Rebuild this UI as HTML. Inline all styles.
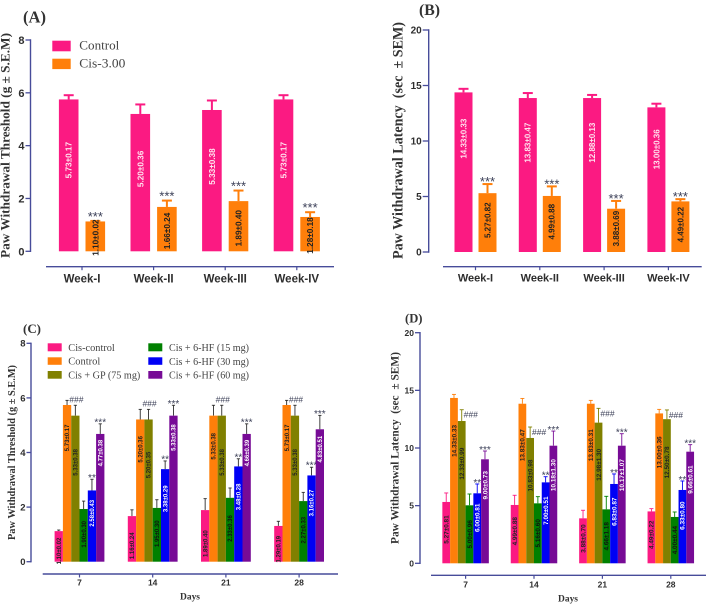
<!DOCTYPE html>
<html lang="en">
<head>
<meta charset="utf-8">
<title>Paw withdrawal threshold and latency charts</title>
<style>
html,body{margin:0;padding:0;background:#fff;width:708px;height:607px;overflow:hidden}
svg{display:block;position:absolute;left:0;top:0;filter:blur(0.3px)}
.serif{font-family:"Liberation Serif",serif}
.sans{font-family:"Liberation Sans",sans-serif}
</style>
</head>
<body>
<svg id="chart" xmlns="http://www.w3.org/2000/svg" width="708" height="607" viewBox="0 0 708 607">
  <rect x="0" y="0" width="708" height="607" fill="#fff"/>

  <text class="serif" x="23" y="22.5" font-size="16.5" font-weight="bold" fill="#333" textLength="23" lengthAdjust="spacingAndGlyphs">(A)</text>
  <text class="serif" x="419" y="15" font-size="15.7" font-weight="bold" fill="#333" textLength="21" lengthAdjust="spacingAndGlyphs">(B)</text>
  <text class="serif" x="23" y="333" font-size="13" font-weight="bold" fill="#333" textLength="18" lengthAdjust="spacingAndGlyphs">(C)</text>
  <text class="serif" x="405" y="322.5" font-size="13" font-weight="bold" fill="#333" textLength="17.5" lengthAdjust="spacingAndGlyphs">(D)</text>

  <text class="serif" transform="translate(9.5,145.5) rotate(-90)" text-anchor="middle" font-size="13" font-weight="bold" fill="#333" textLength="225" lengthAdjust="spacingAndGlyphs">Paw Withdrawal Threshold (g ± S.E.M)</text>
  <text class="serif" transform="translate(402.5,140.5) rotate(-90)" text-anchor="middle" font-size="14.5" font-weight="bold" fill="#333" textLength="237" lengthAdjust="spacingAndGlyphs">Paw Withdrawal Latency&#160; (sec&#160; ± SEM)</text>
  <text class="serif" transform="translate(15,452.5) rotate(-90)" text-anchor="middle" font-size="10.3" font-weight="bold" fill="#333" textLength="175" lengthAdjust="spacingAndGlyphs">Paw Withdrawal Threshold (g ± S.E.M)</text>
  <text class="serif" transform="translate(398.5,448) rotate(-90)" text-anchor="middle" font-size="11.8" font-weight="bold" fill="#333" textLength="192" lengthAdjust="spacingAndGlyphs">Paw Withdrawal Latency&#160; (sec&#160; ± SEM)</text>

  <text class="serif" x="180" y="599.5" font-size="9.5" font-weight="bold" fill="#333" textLength="20" lengthAdjust="spacingAndGlyphs">Days</text>
  <text class="serif" x="558" y="601.5" font-size="9.5" font-weight="bold" fill="#333" textLength="20" lengthAdjust="spacingAndGlyphs">Days</text>

  <g>
    <rect x="52.3" y="40.7" width="18.4" height="10.6" fill="#fb1a82"/>
    <text class="serif" x="79.3" y="49.5" font-size="13" fill="#444" textLength="40" lengthAdjust="spacingAndGlyphs">Control</text>
    <rect x="52.3" y="58.7" width="18.4" height="10.4" fill="#ff7f0a"/>
    <text class="serif" x="79.3" y="67.7" font-size="13" fill="#444" textLength="46" lengthAdjust="spacingAndGlyphs">Cis-3.00</text>
  </g>

  <g>
    <rect x="47.7" y="343.3" width="14" height="8" fill="#fb1a82"/>
    <text class="serif" x="68.3" y="351" font-size="11" fill="#444" textLength="46.5" lengthAdjust="spacingAndGlyphs">Cis-control</text>
    <rect x="47.7" y="357.3" width="14" height="7.5" fill="#ff7f0a"/>
    <text class="serif" x="68.3" y="364.5" font-size="11" fill="#444" textLength="32" lengthAdjust="spacingAndGlyphs">Control</text>
    <rect x="47.7" y="371" width="14" height="7.7" fill="#808000"/>
    <text class="serif" x="68.3" y="378.5" font-size="11" fill="#444" textLength="72" lengthAdjust="spacingAndGlyphs">Cis + GP (75 mg)</text>
    <rect x="148.3" y="343.3" width="14" height="8" fill="#008000"/>
    <text class="serif" x="169" y="351" font-size="11" fill="#444" textLength="80" lengthAdjust="spacingAndGlyphs">Cis + 6-HF (15 mg)</text>
    <rect x="148.3" y="357.3" width="14" height="7.5" fill="#0000f5"/>
    <text class="serif" x="169" y="364.8" font-size="11" fill="#444" textLength="80" lengthAdjust="spacingAndGlyphs">Cis + 6-HF (30 mg)</text>
    <rect x="148.3" y="371" width="14" height="7.7" fill="#770b96"/>
    <text class="serif" x="169" y="378.5" font-size="11" fill="#444" textLength="80" lengthAdjust="spacingAndGlyphs">Cis + 6-HF (60 mg)</text>
  </g>
</svg>

<script>
// ---- Panel A data ----
const aCategories = ['Week-I', 'Week-II', 'Week-III', 'Week-IV'];
const aYTicks = [0, 2, 4, 6, 8];
const aControlMeans = [5.75, 5.2, 5.35, 5.75];
const aControlErrors = [0.16, 0.36, 0.36, 0.16];
const aControlLabels = ['5.73±0.17', '5.20±0.36', '5.33±0.38', '5.73±0.17'];
const aCisMeans = [1.13, 1.68, 1.9, 1.3];
const aCisErrors = [0.02, 0.24, 0.4, 0.18];
const aCisLabels = ['1.10±0.02', '1.66±0.24', '1.89±0.40', '1.28±0.18'];
const aCisMarks = ['***', '***', '***', '***'];

// ---- Panel B data ----
const bCategories = ['Week-I', 'Week-II', 'Week-III', 'Week-IV'];
const bYTicks = [0, 5, 10, 15, 20];
const bControlMeans = [14.38, 13.87, 13.87, 13.03];
const bControlErrors = [0.32, 0.45, 0.28, 0.33];
const bControlLabels = ['14.33±0.33', '13.83±0.47', '12.88±0.13', '13.00±0.36'];
const bCisMeans = [5.3, 5.05, 3.9, 4.56];
const bCisErrors = [0.82, 0.86, 0.7, 0.2];
const bCisLabels = ['5.27±0.82', '4.99±0.88', '3.88±0.69', '4.49±0.22'];
const bCisMarks = ['***', '***', '***', '***'];

// ---- Panel C data ----
const cCategories = ['7', '14', '21', '28'];
const cYTicks = [0, 2, 4, 6, 8];
const cCisControlMeans = [1.12, 1.67, 1.89, 1.31];
const cCisControlErrors = [0.04, 0.23, 0.42, 0.17];
const cCisControlLabels = ['1.10±0.02', '1.16±0.24', '1.89±0.40', '1.29±0.19'];
const cControlMeans = [5.74, 5.21, 5.35, 5.74];
const cControlErrors = [0.17, 0.37, 0.38, 0.17];
const cControlLabels = ['5.73±0.17', '5.20±0.36', '5.33±0.38', '5.73±0.17'];
const cGpMeans = [5.35, 5.21, 5.35, 5.35];
const cGpErrors = [0.38, 0.37, 0.38, 0.38];
const cGpLabels = ['5.33±0.38', '5.20±0.35', '5.33±0.38', '5.33±0.38'];
const cGpMarks = ['###', '###', '###', '###'];
const cHf15Means = [1.93, 1.97, 2.34, 2.22];
const cHf15Errors = [0.29, 0.3, 0.36, 0.32];
const cHf15Labels = ['1.90±0.30', '1.95±0.30', '2.33±0.36', '2.27±0.33'];
const cHf30Means = [2.61, 3.39, 3.49, 3.16];
const cHf30Errors = [0.41, 0.3, 0.28, 0.3];
const cHf30Labels = ['2.58±0.43', '3.38±0.29', '3.48±0.28', '3.16±0.27'];
const cHf30Marks = ['**', '**', '**', '***'];
const cHf60Means = [4.68, 5.35, 4.68, 4.85];
const cHf60Errors = [0.37, 0.38, 0.37, 0.51];
const cHf60Labels = ['4.77±0.38', '5.33±0.38', '4.66±0.39', '4.83±0.51'];
const cHf60Marks = ['***', '***', '***', '***'];

// ---- Panel D data ----
const dCategories = ['7', '14', '21', '28'];
const dYTicks = [0, 5, 10, 15, 20];
const dCisControlMeans = [5.32, 5.06, 3.9, 4.5];
const dCisControlErrors = [0.78, 0.84, 0.7, 0.24];
const dCisControlLabels = ['5.27±0.81', '4.99±0.88', '3.88±0.70', '4.49±0.22'];
const dControlMeans = [14.34, 13.84, 13.84, 13.0];
const dControlErrors = [0.31, 0.46, 0.29, 0.35];
const dControlLabels = ['14.33±0.33', '13.83±0.47', '13.83±0.31', '13.00±0.36'];
const dGpMeans = [12.34, 10.87, 12.2, 12.5];
const dGpErrors = [0.98, 0.95, 1.24, 0.8];
const dGpLabels = ['12.33±0.99', '10.83±0.98', '12.98±1.30', '12.50±0.78'];
const dGpMarks = ['###', '###', '###', '###'];
const dHf15Means = [5.03, 5.2, 4.68, 4.02];
const dHf15Errors = [0.98, 0.58, 1.13, 0.43];
const dHf15Labels = ['5.00±0.96', '5.16±0.60', '4.66±1.18', '4.00±0.44'];
const dHf30Means = [6.07, 7.02, 6.88, 6.36];
const dHf30Errors = [0.81, 0.49, 0.87, 0.78];
const dHf30Labels = ['6.00±0.81', '7.00±0.51', '6.83±0.87', '6.33±0.80'];
const dHf30Marks = ['**', '**', '**', '**'];
const dHf60Means = [9.02, 10.2, 10.2, 9.68];
const dHf60Errors = [0.72, 1.27, 1.04, 0.61];
const dHf60Labels = ['9.00±0.73', '10.18±1.30', '10.17±1.07', '9.66±0.61'];
const dHf60Marks = ['***', '***', '***', '***'];

const PINK = '#fb1a82', ORANGE = '#ff7f0a', OLIVE = '#808000', GREEN = '#008000', BLUE = '#0000f5', PURPLE = '#770b96';
const AXIS = '#474c9a', INK = '#2e2e2e', MARK = '#3c4058';
const SVG_NS = 'http://www.w3.org/2000/svg';
const root = document.getElementById('chart');

function make(tag, parent, props, content) {
  const el = document.createElementNS(SVG_NS, tag);
  for (const k in props) el.setAttribute(k, props[k]);
  if (content !== undefined) el.textContent = content;
  parent.appendChild(el);
  return el;
}

function drawPanel(p) {
  const group = make('g', root, {});
  
  

  const y = v => p.y0 - (v / p.yMax) * (p.y0 - p.yTop);
  const x = i => p.x0 + i * p.xStep;
  const n = p.series.length;

  // y axis
  const yAxis = make('line', group, { x1: p.axisX, x2: p.axisX, y1: y(p.yMax) - 0.7, y2: y(0) + 0.7, stroke: AXIS, 'stroke-width': 1.4 });
  
  
  p.yTicks.forEach(v => {
    const t = make('line', group, { x1: p.axisX - p.tickLen, x2: p.axisX, y1: y(v), y2: y(v), stroke: AXIS, 'stroke-width': 1.3 });
    
    
    const l = make('text', group, { x: p.axisX - p.tickLen - 1, y: y(v) + p.yFont * 0.36, 'text-anchor': 'end', 'font-size': p.yFont, 'font-weight': 'bold', fill: INK, class: 'sans' }, String(v));
    
    
  });

  // x axis
  const xAxis = make('line', group, { x1: p.xLine[0], x2: p.xLine[1], y1: p.xLineY, y2: p.xLineY, stroke: AXIS, 'stroke-width': 1.4 });
  
  
  p.categories.forEach((c, i) => {
    const t = make('line', group, { x1: x(i), x2: x(i), y1: p.xLineY, y2: p.xLineY + 3.5, stroke: AXIS, 'stroke-width': 1.2 });
    
    
    const l = make('text', group, { x: x(i), y: p.xLabelY, 'text-anchor': 'middle', 'font-size': p.xFont, 'font-weight': 'bold', fill: INK, class: 'sans' }, c);
    
    
  });

  // series
  p.series.forEach((s, si) => {
    const offset = (si - (n - 1) / 2) * (p.barW + p.gap);
    s.means.forEach((m, i) => {
      const cx = x(i) + offset + (p.shift || 0);
      const top = y(m);
      const errTop = y(m + s.errors[i]);

      const stem = make('line', group, { x1: cx, x2: cx, y1: top, y2: errTop, stroke: p.errColor || s.color, 'stroke-width': p.errW });
      
      
      const cap = make('line', group, { x1: cx - p.capW, x2: cx + p.capW, y1: errTop, y2: errTop, stroke: p.errColor || s.color, 'stroke-width': p.errW });
      
      

      const bar = make('rect', group, { x: cx - p.barW / 2, y: top, width: p.barW, height: y(0) - top, fill: s.color });
      
      

      const ly = y(0) - (y(0) - top) * s.labelFrac;
      const label = make('text', group, {
        x: 0, y: 0, transform: 'translate(' + (cx + p.valueFont * 0.36) + ',' + ly + ') rotate(-90)',
        'text-anchor': 'middle', 'font-size': p.valueFont, 'font-weight': p.valueWeight, fill: s.labelColor, class: 'sans'
      }, s.labels[i]);
      
      

      if (s.marks) {
        const isHash = s.marks[i].charAt(0) === '#';
        const mx = isHash ? cx + p.hashDx : cx;
        const my = isHash ? errTop + p.hashDy : errTop + p.starDy;
        const mark = make('text', group, {
          x: mx, y: my, 'text-anchor': 'middle', fill: MARK, class: 'sans',
          'font-size': isHash ? p.hashFont : p.starFont
        }, s.marks[i]);
        
        
      }
    });
  });
}

drawPanel({
  id: 'a', categories: aCategories, yTicks: aYTicks, yMax: 8, yTop: 40, y0: 251.3,
  axisX: 30.5, tickLen: 5, yFont: 11, x0: 82, xStep: 71.6, xLine: [46, 334], xLineY: 266.7, xLabelY: 282.7, xFont: 11.5,
  barW: 19.6, gap: 7, errW: 2, capW: 5, valueFont: 8.2, valueWeight: 'bold', starFont: 13, starDy: 0,
  series: [
    { key: 'control', color: PINK, means: aControlMeans, errors: aControlErrors, labels: aControlLabels, labelFrac: 0.6, labelColor: '#ffe3ef' },
    { key: 'cis', color: ORANGE, means: aCisMeans, errors: aCisErrors, labels: aCisLabels, marks: aCisMarks, labelFrac: 0.46, labelColor: '#222' }
  ]
});

drawPanel({
  id: 'b', categories: bCategories, yTicks: bYTicks, yMax: 20, yTop: 30, y0: 252,
  axisX: 428.7, tickLen: 6, yFont: 10, x0: 475.5, xStep: 64.3, xLine: [443, 701.7], xLineY: 266.7, xLabelY: 281.7, xFont: 11,
  barW: 18, gap: 6, errW: 2, capW: 5, valueFont: 8, valueWeight: 'bold', starFont: 13, starDy: 2,
  series: [
    { key: 'control', color: PINK, means: bControlMeans, errors: bControlErrors, labels: bControlLabels, labelFrac: 0.71, labelColor: '#ffe3ef' },
    { key: 'cis', color: ORANGE, means: bCisMeans, errors: bCisErrors, labels: bCisLabels, marks: bCisMarks, labelFrac: 0.54, labelColor: '#222' }
  ]
});

drawPanel({
  id: 'c', categories: cCategories, yTicks: cYTicks, yMax: 8, yTop: 343.3, y0: 561.7,
  axisX: 31, tickLen: 4.5, yFont: 9.5, x0: 79.5, xStep: 73.2, xLine: [42.7, 338], xLineY: 574, xLabelY: 585.7, xFont: 8.5,
  barW: 8.3, gap: 0, errW: 0.9, capW: 1.6, errColor: '#2c2c2c', valueFont: 6, valueWeight: 'bold', starFont: 10, starDy: 1.5, hashFont: 8.5, hashDx: 1, hashDy: -3,
  series: [
    { key: 'cis-control', color: PINK, means: cCisControlMeans, errors: cCisControlErrors, labels: cCisControlLabels, labelFrac: 0.35, labelColor: '#222' },
    { key: 'control', color: ORANGE, means: cControlMeans, errors: cControlErrors, labels: cControlLabels, labelFrac: 0.79, labelColor: '#222' },
    { key: 'gp', color: OLIVE, means: cGpMeans, errors: cGpErrors, labels: cGpLabels, marks: cGpMarks, labelFrac: 0.68, labelColor: '#222' },
    { key: 'hf-15', color: GREEN, means: cHf15Means, errors: cHf15Errors, labels: cHf15Labels, labelFrac: 0.52, labelColor: '#111' },
    { key: 'hf-30', color: BLUE, means: cHf30Means, errors: cHf30Errors, labels: cHf30Labels, marks: cHf30Marks, labelFrac: 0.68, labelColor: '#fff' },
    { key: 'hf-60', color: PURPLE, means: cHf60Means, errors: cHf60Errors, labels: cHf60Labels, marks: cHf60Marks, labelFrac: 0.85, labelColor: '#fff' }
  ]
});

drawPanel({
  id: 'd', categories: dCategories, yTicks: dYTicks, yMax: 20, yTop: 332.7, y0: 563.3,
  axisX: 420, tickLen: 5, yFont: 8.5, x0: 465.6, xStep: 68.4, xLine: [431, 706], xLineY: 575.3, xLabelY: 587.3, xFont: 8.5,
  barW: 7.75, gap: 0, errW: 0.9, capW: 2, valueFont: 6.4, valueWeight: 'bold', starFont: 10, starDy: 2, hashFont: 8.5, hashDx: 9, hashDy: 8,
  series: [
    { key: 'cis-control', color: PINK, means: dCisControlMeans, errors: dCisControlErrors, labels: dCisControlLabels, labelFrac: 0.55, labelColor: '#222' },
    { key: 'control', color: ORANGE, means: dControlMeans, errors: dControlErrors, labels: dControlLabels, labelFrac: 0.74, labelColor: '#222' },
    { key: 'gp', color: OLIVE, means: dGpMeans, errors: dGpErrors, labels: dGpLabels, marks: dGpMarks, labelFrac: 0.7, labelColor: '#222' },
    { key: 'hf-15', color: GREEN, means: dHf15Means, errors: dHf15Errors, labels: dHf15Labels, labelFrac: 0.5, labelColor: '#111' },
    { key: 'hf-30', color: BLUE, means: dHf30Means, errors: dHf30Errors, labels: dHf30Labels, marks: dHf30Marks, labelFrac: 0.65, labelColor: '#fff' },
    { key: 'hf-60', color: PURPLE, means: dHf60Means, errors: dHf60Errors, labels: dHf60Labels, marks: dHf60Marks, labelFrac: 0.75, labelColor: '#fff' }
  ]
});
</script>
</body>
</html>
